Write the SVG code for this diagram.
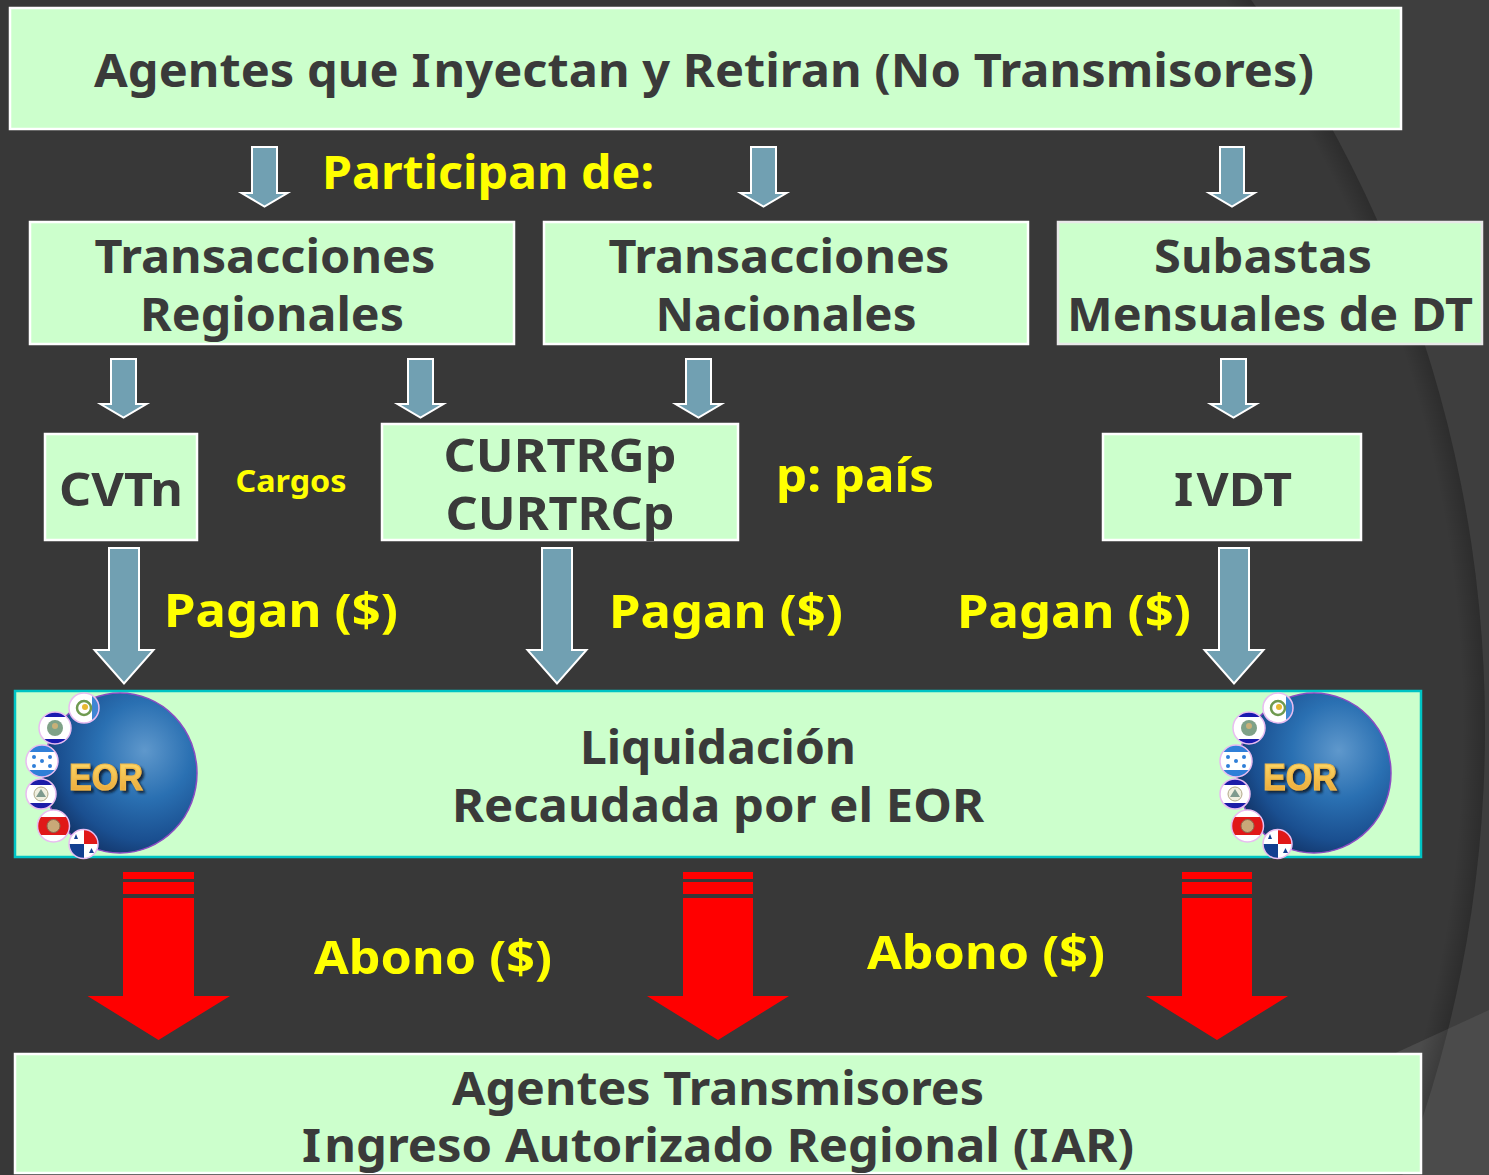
<svg xmlns="http://www.w3.org/2000/svg" width="1489" height="1175" viewBox="0 0 1489 1175">
<style>
.box{fill:#ccffcc;stroke:#fff;stroke-width:2.5}
.teal{fill:#ccffcc;stroke:#00c4c4;stroke-width:2.5}
text{font-family:"Noto Sans","DejaVu Sans",sans-serif;font-weight:700}
.d{fill:#3a3a3a;font-size:47px;text-anchor:middle}
.y{fill:#ffff00;font-size:47px;text-anchor:middle}
.blue{fill:#71a0b2;stroke:#fff;stroke-width:2}
.red{fill:#ff0000}
.eor{font-family:"Liberation Sans",Arial,sans-serif;font-weight:700;font-size:36px;fill:url(#gold);stroke:#f0b848;stroke-width:1.2;text-anchor:middle;filter:url(#sh)}
.fw{fill:#fff}
.fe{fill:none;stroke:#e8bcf0;stroke-width:1.5}
</style>
<defs>
<filter id="sh" x="-20%" y="-20%" width="150%" height="150%"><feDropShadow dx="2.500" dy="2.500" stdDeviation="1.200" flood-color="#0a1a30" flood-opacity=".9"/></filter>
<linearGradient id="gold" x1="0" y1="0" x2="0" y2="1"><stop offset="0" stop-color="#ffe070"/><stop offset="1" stop-color="#e8a030"/></linearGradient>
<radialGradient id="globe" cx="0.66" cy="0.36" r="0.8"><stop offset="0" stop-color="#5f98cc"/><stop offset="0.38" stop-color="#2a70b2"/><stop offset="0.7" stop-color="#1a4f90"/><stop offset="1" stop-color="#0e2450"/></radialGradient>
<radialGradient id="ring" gradientUnits="userSpaceOnUse" cx="235" cy="728" r="1250"><stop offset="0" stop-color="#000" stop-opacity="0"/><stop offset="0.982" stop-color="#000" stop-opacity="0"/><stop offset="1" stop-color="#000" stop-opacity=".2"/></radialGradient>
<clipPath id="c1"><circle cx="84" cy="708" r="15"/></clipPath>
<clipPath id="c2"><circle cx="55" cy="728" r="16"/></clipPath>
<clipPath id="c3"><circle cx="42" cy="761" r="16"/></clipPath>
<clipPath id="c4"><circle cx="41" cy="794" r="15"/></clipPath>
<clipPath id="c5"><circle cx="53.500" cy="826" r="16"/></clipPath>
<clipPath id="c6"><circle cx="83.500" cy="844" r="14.500"/></clipPath>
<g id="logo">
<ellipse cx="120" cy="773" rx="77" ry="80" fill="url(#globe)" stroke="#8a4cc4" stroke-width="1.500"/>
<g clip-path="url(#c1)"><rect x="69" y="693" width="30" height="30" fill="#fff"/><rect x="92" y="693" width="8" height="30" fill="#3f86d4"/><circle cx="84" cy="708" r="7" fill="none" stroke="#6f9a50" stroke-width="2.500"/><circle cx="85" cy="707" r="3" fill="#e8b830"/></g><circle cx="84" cy="708" r="15" class="fe"/>
<g clip-path="url(#c2)"><rect x="39" y="712" width="32" height="32" fill="#fff"/><rect x="39" y="712" width="32" height="5" fill="#1a1ab0"/><rect x="39" y="739" width="32" height="5" fill="#1a1ab0"/><circle cx="55" cy="728" r="8" fill="#7fa288"/><circle cx="55" cy="726" r="3" fill="#c8b078"/></g><circle cx="55" cy="728" r="16" class="fe"/>
<g clip-path="url(#c3)"><rect x="26" y="745" width="32" height="32" fill="#fff"/><rect x="26" y="745" width="32" height="7" fill="#2f7fd8"/><rect x="26" y="770" width="32" height="7" fill="#2f7fd8"/><g fill="#2f7fd8"><circle cx="34" cy="757" r="2"/><circle cx="50" cy="757" r="2"/><circle cx="42" cy="761" r="2"/><circle cx="34" cy="766" r="2"/><circle cx="50" cy="766" r="2"/></g></g><circle cx="42" cy="761" r="16" class="fe"/>
<g clip-path="url(#c4)"><rect x="26" y="779" width="30" height="30" fill="#fff"/><rect x="26" y="779" width="30" height="6" fill="#1c1ca8"/><rect x="26" y="803" width="30" height="6" fill="#1c1ca8"/><circle cx="41" cy="794" r="7" fill="#f0efe0" stroke="#b0a888"/><path d="M41 789l5 8h-10z" fill="#7e9a8e"/></g><circle cx="41" cy="794" r="15" class="fe"/>
<g clip-path="url(#c5)"><rect x="37" y="810" width="33" height="32" fill="#fff"/><rect x="37" y="817" width="33" height="18" fill="#e01818"/><circle cx="53.500" cy="826" r="6.500" fill="#c9a878" stroke="#8a6a50"/></g><circle cx="53.500" cy="826" r="16" class="fe"/>
<g clip-path="url(#c6)"><rect x="69" y="829" width="30" height="30" fill="#fff"/><rect x="84" y="829" width="15" height="15" fill="#e01818"/><rect x="69" y="844" width="15" height="15" fill="#123f90"/><path d="M76 834l2 5h-4zM91.500 848l2.500 5h-5z" fill="#123f90"/></g><circle cx="83.500" cy="844" r="14.500" class="fe"/>
<text x="106" y="790" class="eor" textLength="74" lengthAdjust="spacingAndGlyphs">EOR</text>
</g>
</defs>
<g id="background">
<rect width="1489" height="1175" fill="#3e3e3e"/>
<circle cx="235" cy="728" r="1250" fill="#383838"/>
<path d="M1489 1010L1300 1097V1175H1489z" fill="#4b4b4b"/>
<circle cx="235" cy="728" r="1250" fill="url(#ring)"/>
</g>
<g id="connectors">
<path id="a1" class="blue" d="M252 147h25v46h10.500l-23 13.500l-23-13.500H252z"/>
<path id="a2" class="blue" d="M751 147h25v46h10.500l-23 13.500l-23-13.500H751z"/>
<path id="a3" class="blue" d="M1220 147h24v46h10.500l-22.500 13.500l-23-13.500h11z"/>
<path id="a4" class="blue" d="M111 359h25v45h10.500l-23 13.500l-23-13.500H111z"/>
<path id="a5" class="blue" d="M408 359h25v45h10.500l-23 13.500l-23-13.500H408z"/>
<path id="a6" class="blue" d="M686 359h25v45h10.500l-23 13.500l-23-13.500H686z"/>
<path id="a7" class="blue" d="M1221 359h25v45h10.500l-23 13.500l-23-13.500H1221z"/>
<path id="a8" class="blue" d="M109 548h30v102h14.500L124 683.500L94.500 650H109z"/>
<path id="a9" class="blue" d="M542 548h30v102h14.500L557 683.500L527.500 650H542z"/>
<path id="a10" class="blue" d="M1219 548h30v102h14.500L1234 683.500L1204.500 650H1219z"/>
<g id="r1" class="red"><rect x="123" y="872" width="71" height="7"/><rect x="123" y="882" width="71" height="12"/><path d="M123 898h71v98h36l-71.500 44L87.500 996H123z"/></g>
<g id="r2" class="red"><rect x="683" y="872" width="70" height="7"/><rect x="683" y="882" width="70" height="12"/><path d="M683 898h70v98h36l-71 44L647 996h36z"/></g>
<g id="r3" class="red"><rect x="1182" y="872" width="70" height="7"/><rect x="1182" y="882" width="70" height="12"/><path d="M1182 898h70v98h36l-71 44L1146 996h36z"/></g>
</g>
<g id="n1"><rect class="box" x="10" y="8" width="1391" height="121"/><text class="d" x="704" y="87" textLength="1220" lengthAdjust="spacingAndGlyphs">Agentes que I<tspan dx="3">nyectan y Retiran (No Transmisores)</tspan></text></g>
<g id="n2"><rect class="box" x="30" y="222" width="484" height="122"/><text class="d" x="265" y="273" textLength="341" lengthAdjust="spacingAndGlyphs">Transacciones</text><text class="d" x="272" y="331" textLength="264" lengthAdjust="spacingAndGlyphs">Regionales</text></g>
<g id="n3"><rect class="box" x="544" y="222" width="484" height="122"/><text class="d" x="779" y="273" textLength="341" lengthAdjust="spacingAndGlyphs">Transacciones</text><text class="d" x="786" y="331" textLength="261" lengthAdjust="spacingAndGlyphs">Nacionales</text></g>
<g id="n4"><rect class="box" x="1058" y="222" width="424" height="122" style="stroke:#e8e8e8"/><text class="d" x="1263" y="273" textLength="218" lengthAdjust="spacingAndGlyphs">Subastas</text><text class="d" x="1270" y="331" textLength="406" lengthAdjust="spacingAndGlyphs">Mensuales de DT</text></g>
<g id="n5"><rect class="box" x="45" y="434" width="152" height="106"/><text class="d" x="121" y="506" textLength="124" lengthAdjust="spacingAndGlyphs">CVTn</text></g>
<g id="n6"><rect class="box" x="382" y="424" width="356" height="116"/><text class="d" x="560" y="472" textLength="233" lengthAdjust="spacingAndGlyphs">CURTRGp</text><text class="d" x="560" y="530" textLength="229" lengthAdjust="spacingAndGlyphs">CURTRCp</text></g>
<g id="n7"><rect class="box" x="1103" y="434" width="258" height="106"/><text class="d" x="1233" y="506" textLength="118" lengthAdjust="spacingAndGlyphs">I<tspan dx="3">VDT</tspan></text></g>
<g id="n8"><rect class="teal" x="15" y="691" width="1406" height="166"/><use href="#logo"/><use href="#logo" x="1194"/><text class="d" x="718" y="764" textLength="276" lengthAdjust="spacingAndGlyphs">Liquidación</text><text class="d" x="718" y="822" textLength="532" lengthAdjust="spacingAndGlyphs">Recaudada por el EOR</text></g>
<g id="n9"><rect class="box" x="15" y="1054" width="1406" height="119"/><text class="d" x="718" y="1105" textLength="532" lengthAdjust="spacingAndGlyphs">Agentes Transmisores</text><text class="d" x="718" y="1162" textLength="832" lengthAdjust="spacingAndGlyphs">I<tspan dx="3">ngreso Autorizado Regional (I</tspan><tspan dx="3">AR)</tspan></text></g>
<g id="labels">
<text class="y" x="488" y="189" textLength="332" lengthAdjust="spacingAndGlyphs">Participan de:</text>
<text class="y" x="291" y="492" style="font-size:31px" textLength="111" lengthAdjust="spacingAndGlyphs">Cargos</text>
<text class="y" x="855" y="492" textLength="158" lengthAdjust="spacingAndGlyphs">p: país</text>
<text class="y" x="281" y="627" textLength="234" lengthAdjust="spacingAndGlyphs">Pagan ($)</text>
<text class="y" x="726" y="628" textLength="234" lengthAdjust="spacingAndGlyphs">Pagan ($)</text>
<text class="y" x="1074" y="628" textLength="234" lengthAdjust="spacingAndGlyphs">Pagan ($)</text>
<text class="y" x="433" y="974" textLength="238" lengthAdjust="spacingAndGlyphs">Abono ($)</text>
<text class="y" x="986" y="969" textLength="238" lengthAdjust="spacingAndGlyphs">Abono ($)</text>
</g>
</svg>
